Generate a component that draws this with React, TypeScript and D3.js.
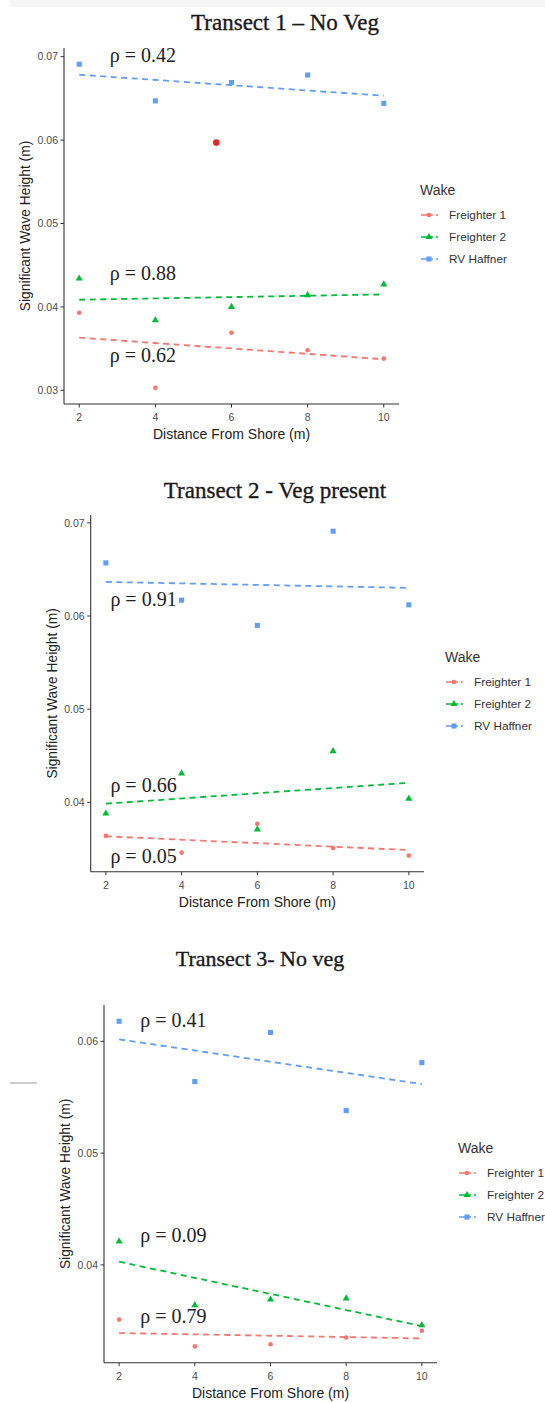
import React from "react";
import * as d3 from "d3";

// shared
const distance = [2, 4, 6, 8, 10];
const xTicks = [2, 4, 6, 8, 10];
const wakes = ["Freighter 1", "Freighter 2", "RV Haffner"];
const wakeColors = ["#F8766D", "#00BA38", "#619CFF"];

// Transect 1 – No Veg
const t1Freighter1 = [0.0393, 0.0303, 0.0369, 0.0348, 0.0338];
const t1Freighter2 = [0.0434, 0.0384, 0.04, 0.0414, 0.0427];
const t1Haffner = [0.0691, 0.0647, 0.0669, 0.0678, 0.0644];
const t1OutlierX = [5.6];
const t1OutlierY = [0.0597];
const t1YTicks = [0.03, 0.04, 0.05, 0.06, 0.07];
const t1Rho = ["0.62", "0.88", "0.42"];
const t1RhoX = [2.8, 2.8, 2.8];
const t1RhoY = [0.0342, 0.0441, 0.0702];

// Transect 2 - Veg present
const t2Freighter1 = [0.0364, 0.0346, 0.0377, 0.0351, 0.0343];
const t2Freighter2 = [0.0388, 0.0431, 0.0371, 0.0455, 0.0404];
const t2Haffner = [0.0657, 0.0617, 0.059, 0.0691, 0.0612];
const t2YTicks = [0.04, 0.05, 0.06, 0.07];
const t2Rho = ["0.05", "0.66", "0.91"];
const t2RhoX = [2.12, 2.12, 2.12];
const t2RhoY = [0.0342, 0.0419, 0.0618];

// Transect 3- No veg
const t3Freighter1 = [0.0351, 0.0327, 0.0329, 0.0335, 0.0341];
const t3Freighter2 = [0.0421, 0.0364, 0.0369, 0.037, 0.0346];
const t3Haffner = [0.0618, 0.0564, 0.0608, 0.0538, 0.0581];
const t3YTicks = [0.04, 0.05, 0.06];
const t3Rho = ["0.79", "0.09", "0.41"];
const t3RhoX = [2.56, 2.56, 2.56];
const t3RhoY = [0.0354, 0.0427, 0.0619];

const sans = "'Liberation Sans', Arial, sans-serif";
const serif = "'Liberation Serif', 'Times New Roman', serif";

// least squares fit, like geom_smooth(method = "lm")
function fit(xs: number[], ys: number[]) {
  const mx = d3.mean(xs) as number;
  const my = d3.mean(ys) as number;
  const num = d3.sum(xs, (x, i) => (x - mx) * (ys[i] - my));
  const den = d3.sum(xs, (x) => (x - mx) * (x - mx));
  const b = num / den;
  return (x: number) => my + b * (x - mx);
}

// ggplot default 5% expansion
function expand(ext: number[]) {
  const pad = (ext[1] - ext[0]) * 0.05;
  return [ext[0] - pad, ext[1] + pad];
}

const symbols = [d3.symbolCircle, d3.symbolTriangle, d3.symbolSquare];
const symbolSizes = [17, 22, 26];

type PanelProps = {
  title: string;
  titleX: number;
  titleY: number;
  titleSize: number;
  box: { left: number; right: number; top: number; bottom: number };
  series: number[][];
  outX?: number[];
  outY?: number[];
  yTicks: number[];
  rho: string[];
  rhoX: number[];
  rhoY: number[];
  legend: { x: number; y: number };
};

const Panel: React.FC<PanelProps> = ({
  title,
  titleX,
  titleY,
  titleSize,
  box,
  series,
  outX = [],
  outY = [],
  yTicks,
  rho,
  rhoX,
  rhoY,
  legend,
}) => {
  const allY = series.flat().concat(outY);
  const x = d3
    .scaleLinear()
    .domain(expand(d3.extent(distance) as number[]))
    .range([box.left, box.right]);
  const y = d3
    .scaleLinear()
    .domain(expand(d3.extent(allY) as number[]))
    .range([box.bottom, box.top]);

  return (
    <g>
      <text
        x={titleX}
        y={titleY}
        textAnchor="middle"
        fontFamily={serif}
        fontSize={titleSize}
        fill="#1a1a1a"
        stroke="#1a1a1a"
        strokeWidth={0.35}
      >
        {title}
      </text>

      {/* trend lines */}
      {series.map((vals, si) => {
        const f = fit(distance, vals);
        const xs = [distance[0], distance[distance.length - 1]];
        const line = d3
          .line<number>()
          .x((d) => x(d))
          .y((d) => y(f(d)));
        return (
          <path
            key={"l" + si}
            d={line(xs) as string}
            fill="none"
            stroke={wakeColors[si]}
            strokeWidth={1.8}
            strokeDasharray="6 4.5"
          />
        );
      })}

      {/* points */}
      {series.map((vals, si) =>
        vals.map((v, i) => (
          <path
            key={"p" + si + "-" + i}
            transform={`translate(${x(distance[i])},${y(v)})`}
            d={d3.symbol(symbols[si], symbolSizes[si])() as string}
            fill={wakeColors[si]}
          />
        )),
      )}
      {outX.map((ox, i) => (
        <circle key={"o" + i} cx={x(ox)} cy={y(outY[i])} r={3.3} fill="#e8262a" />
      ))}

      {/* rho labels */}
      {rho.map((r, i) => (
        <text
          key={"r" + i}
          x={x(rhoX[i])}
          y={y(rhoY[i])}
          dy="0.35em"
          fontFamily={serif}
          fontSize={20}
          fill="#222"
        >
          {"ρ = " + r}
        </text>
      ))}

      {/* axes */}
      <line x1={box.left} x2={box.left} y1={box.top} y2={box.bottom} stroke="#333" strokeWidth={1.1} />
      <line x1={box.left} x2={box.right} y1={box.bottom} y2={box.bottom} stroke="#333" strokeWidth={1.1} />
      {yTicks.map((t) => (
        <g key={"yt" + t}>
          <line x1={box.left - 3.5} x2={box.left} y1={y(t)} y2={y(t)} stroke="#333" />
          <text
            x={box.left - 6}
            y={y(t)}
            dy="0.35em"
            textAnchor="end"
            fontFamily={sans}
            fontSize={10.5}
            fill="#4d4d4d"
          >
            {d3.format(".2f")(t)}
          </text>
        </g>
      ))}
      {xTicks.map((t) => (
        <g key={"xt" + t}>
          <line x1={x(t)} x2={x(t)} y1={box.bottom} y2={box.bottom + 3.5} stroke="#333" />
          <text
            x={x(t)}
            y={box.bottom + 13.5}
            dy="0.35em"
            textAnchor="middle"
            fontFamily={sans}
            fontSize={10.5}
            fill="#4d4d4d"
          >
            {t}
          </text>
        </g>
      ))}
      <text
        x={(box.left + box.right) / 2}
        y={box.bottom + 30}
        dy="0.35em"
        textAnchor="middle"
        fontFamily={sans}
        fontSize={14}
        fill="#222"
      >
        Distance From Shore (m)
      </text>
      <text
        transform={`translate(${box.left - 39},${(box.top + box.bottom) / 2}) rotate(-90)`}
        dy="0.35em"
        textAnchor="middle"
        fontFamily={sans}
        fontSize={13.8}
        fill="#222"
      >
        Significant Wave Height (m)
      </text>

      {/* legend */}
      <text x={legend.x} y={legend.y} dy="0.35em" fontFamily={sans} fontSize={14} fill="#333">
        Wake
      </text>
      {wakes.map((w, i) => {
        const ly = legend.y + 25 + i * 22;
        return (
          <g key={"lg" + i}>
            <line
              x1={legend.x + 1}
              x2={legend.x + 19}
              y1={ly}
              y2={ly}
              stroke={wakeColors[i]}
              strokeWidth={1.5}
              strokeDasharray="12 3 2 4"
            />
            <path
              transform={`translate(${legend.x + 9},${ly})`}
              d={d3.symbol(symbols[i], symbolSizes[i])() as string}
              fill={wakeColors[i]}
            />
            <text x={legend.x + 29} y={ly} dy="0.35em" fontFamily={sans} fontSize={11.8} fill="#333">
              {w}
            </text>
          </g>
        );
      })}
    </g>
  );
};

export default function App() {
  return (
    <svg
      width={545}
      height={1402}
      style={{ position: "absolute", left: 0, top: 0, background: "#fff" }}
    >
      <rect x={10} y={0} width={535} height={7} fill="#f6f6f6" />
      <Panel
        title="Transect 1 – No Veg"
        titleX={285}
        titleY={30}
        titleSize={23}
        box={{ left: 64, right: 399, top: 48, bottom: 404 }}
        series={[t1Freighter1, t1Freighter2, t1Haffner]}
        outX={t1OutlierX}
        outY={t1OutlierY}
        yTicks={t1YTicks}
        rho={t1Rho}
        rhoX={t1RhoX}
        rhoY={t1RhoY}
        legend={{ x: 420, y: 190 }}
      />
      <Panel
        title="Transect 2 - Veg present"
        titleX={275}
        titleY={498}
        titleSize={23}
        box={{ left: 90.7, right: 424, top: 515, bottom: 871.7 }}
        series={[t2Freighter1, t2Freighter2, t2Haffner]}
        yTicks={t2YTicks}
        rho={t2Rho}
        rhoX={t2RhoX}
        rhoY={t2RhoY}
        legend={{ x: 445, y: 657 }}
      />
      <line x1={10} x2={37} y1={1083} y2={1083} stroke="#9a9a9a" strokeWidth={1} />
      <Panel
        title="Transect 3- No veg"
        titleX={260}
        titleY={966}
        titleSize={22}
        box={{ left: 104, right: 437, top: 1005, bottom: 1362.7 }}
        series={[t3Freighter1, t3Freighter2, t3Haffner]}
        yTicks={t3YTicks}
        rho={t3Rho}
        rhoX={t3RhoX}
        rhoY={t3RhoY}
        legend={{ x: 458, y: 1148 }}
      />
    </svg>
  );
}
